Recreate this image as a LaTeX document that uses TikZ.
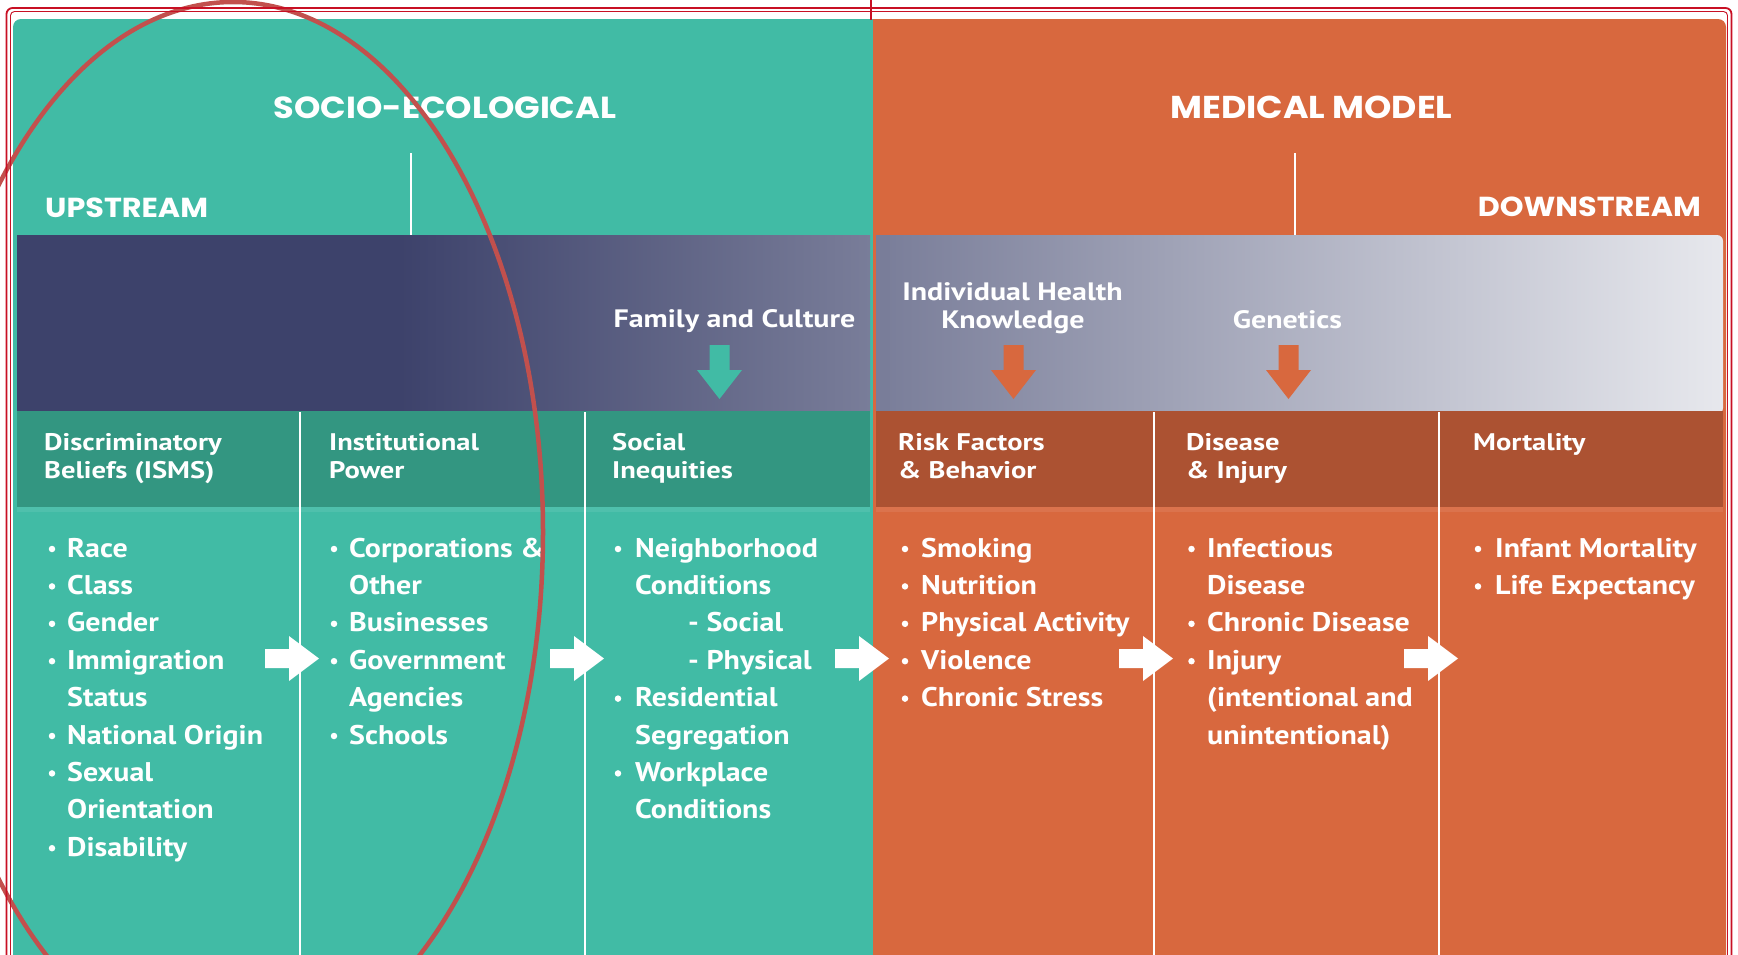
\documentclass[tikz,border=0pt]{standalone}
\usepackage{fontspec}
\setmainfont{PT Sans}
\newfontfamily\bodyfont{PT Sans}[FakeStretch=1.11]
\newfontfamily\hdrfont{PT Sans}[FakeStretch=1.19]
\newfontfamily\titlefont{Poppins}[FakeStretch=1.1]
\definecolor{panelteal}{RGB}{65,187,165}
\definecolor{hdrteal}{RGB}{51,150,129}
\definecolor{panelorange}{RGB}{216,104,62}
\definecolor{hdrorange}{RGB}{172,82,50}
\definecolor{bandnavy}{RGB}{61,66,107}
\definecolor{bandmid}{RGB}{121,125,153}
\definecolor{bandlight}{RGB}{231,232,237}
\definecolor{ringred}{RGB}{194,80,77}
\definecolor{framered}{RGB}{200,16,36}
\newcommand\bitem[5]{\node[dot] (#1b) at (#2,#4-8) {};\node[body] (#1) at (#3,#4) {#5};}
\newcommand\citem[4]{\node[body] (#1) at (#2,#3) {#4};}
\begin{document}
\begin{tikzpicture}[x=1pt,y=-1pt,
  body/.style={font=\bodyfont\fontsize{27}{32}\selectfont\bfseries, text=white, inner sep=0pt, anchor=base west},
  hdr/.style={font=\hdrfont\fontsize{24}{28}\selectfont\bfseries, text=white, inner sep=0pt, anchor=base west},
  lbl/.style={font=\hdrfont\fontsize{25.2}{30}\selectfont\bfseries, text=white, inner sep=0pt, anchor=base},
  ttl/.style={font=\titlefont\fontsize{30.5}{34}\selectfont\bfseries, text=white, inner sep=0pt},
  sttl/.style={font=\titlefont\fontsize{27.5}{32}\selectfont\bfseries, text=white, inner sep=0pt},
  dot/.style={circle, fill=white, minimum size=6.5pt, inner sep=0pt},
  divider/.style={white, line width=1.6pt},
  tick/.style={white, line width=2.6pt},
  rarrow/.pic={\fill[white] (-35,-9.5) -- (-11,-9.5) -- (-11,-22.5) -- (19,0) -- (-11,22.5) -- (-11,9.5) -- (-35,9.5) -- cycle;},
  darrow/.pic={\fill[pic actions] (-10,0) -- (10,0) -- (10,25) -- (22.5,25) -- (0,54) -- (-22.5,25) -- (-10,25) -- cycle;}
]
\useasboundingbox (0,0) rectangle (1738,954);
\clip (0,0) rectangle (1738,954);
\fill[white] (0,0) rectangle (1738,954);
% panels
\fill[panelteal, rounded corners=8pt] (13,19) rectangle (890,1000);
\fill[panelorange, rounded corners=8pt] (873,19) rectangle (1726,1000);
\fill[panelorange] (873,19) rectangle (895,1000);
% gradient band
\fill[bandnavy] (17,235) rectangle (402,412);
\shade[left color=bandnavy, right color=bandmid] (400,235) rectangle (870,412);
\shade[left color=bandmid, right color=bandlight, rounded corners=6pt] (876,235) rectangle (1723,414);
\fill[bandmid] (876,235) rectangle (890,412);
% header rows
\fill[hdrteal] (17,411) rectangle (870,507);
\fill[hdrorange] (876,411) rectangle (1723,507);
\fill[white, opacity=0.08] (17,507) rectangle (870,512);
\fill[white, opacity=0.08] (876,507) rectangle (1723,512);
% dividers
\foreach \d in {300,585,1154,1439} \draw[divider] (\d,412) -- (\d,1000);
% ticks
\draw[tick] (411,153) -- (411,235);
\draw[tick] (1295,153) -- (1295,235);
% titles
\node[ttl, anchor=base] (socio) at (445,118) {SOCIO-ECOLOGICAL};
\node[ttl, anchor=base, font=\titlefont\fontsize{31.6}{34}\selectfont\bfseries] (medical) at (1311.5,118) {MEDICAL MODEL};
\node[sttl, anchor=base west] (upstream) at (45,217) {UPSTREAM};
\node[sttl, anchor=base east] (downstream) at (1701,216) {DOWNSTREAM};
% band labels and arrows
\node[lbl] (family) at (734.5,327) {Family and Culture};
\node[lbl] (indiv) at (1012.5,300) {Individual Health};
\node[lbl] (knowl) at (1013,328) {Knowledge};
\node[lbl] (genet) at (1287.5,328) {Genetics};
\pic[fill=panelteal] at (719.5,345) {darrow};
\pic[fill=panelorange] at (1013.5,345) {darrow};
\pic[fill=panelorange] at (1288.5,345) {darrow};
% headers
\node[hdr] (h1a) at (44,450) {Discriminatory};
\node[hdr] (h1b) at (44,478) {Beliefs (ISMS)};
\node[hdr] (h2a) at (329,450) {Institutional};
\node[hdr] (h2b) at (329,478) {Power};
\node[hdr] (h3a) at (612,450) {Social};
\node[hdr] (h3b) at (612,478) {Inequities};
\node[hdr] (h4a) at (898,450) {Risk Factors};
\node[hdr] (h4b) at (898,478) {\& Behavior};
\node[hdr] (h5a) at (1186,450) {Disease};
\node[hdr] (h5b) at (1186,478) {\& Injury};
\node[hdr] (h6a) at (1473,450) {Mortality};
% column 1
\bitem{a1}{52}{67}{557}{Race}
\bitem{a2}{52}{67}{594.4}{Class}
\bitem{a3}{52}{67}{631.8}{Gender}
\bitem{a4}{52}{67}{669.2}{Immigration}
\citem{a5}{67}{706.6}{Status}
\bitem{a6}{52}{67}{744}{National Origin}
\bitem{a7}{52}{67}{781.4}{Sexual}
\citem{a8}{67}{818.8}{Orientation}
\bitem{a9}{52}{67}{856.2}{Disability}
% column 2
\bitem{b1}{334}{349}{557}{Corporations \&}
\citem{b2}{349}{594.4}{Other}
\bitem{b3}{334}{349}{631.8}{Businesses}
\bitem{b4}{334}{349}{669.2}{Government}
\citem{b5}{349}{706.6}{Agencies}
\bitem{b6}{334}{349}{744}{Schools}
% column 3
\bitem{c1}{618}{635}{557}{Neighborhood}
\citem{c2}{635}{594.4}{Conditions}
\citem{c3}{688}{631.8}{- Social}
\citem{c4}{688}{669.2}{- Physical}
\bitem{c5}{618}{635}{706.6}{Residential}
\citem{c6}{635}{744}{Segregation}
\bitem{c7}{618}{635}{781.4}{Workplace}
\citem{c8}{635}{818.8}{Conditions}
% column 4
\bitem{d1}{905}{921}{557}{Smoking}
\bitem{d2}{905}{921}{594.4}{Nutrition}
\bitem{d3}{905}{921}{631.8}{Physical Activity}
\bitem{d4}{905}{921}{669.2}{Violence}
\bitem{d5}{905}{921}{706.6}{Chronic Stress}
% column 5
\bitem{e1}{1191.5}{1207}{557}{Infectious}
\citem{e2}{1207}{594.4}{Disease}
\bitem{e3}{1191.5}{1207}{631.8}{Chronic Disease}
\bitem{e4}{1191.5}{1207}{669.2}{Injury}
\citem{e5}{1207}{706.6}{(intentional and}
\citem{e6}{1207}{744}{unintentional)}
% column 6
\bitem{f1}{1478}{1495}{557}{Infant Mortality}
\bitem{f2}{1478}{1495}{594.4}{Life Expectancy}
% flow arrows
\foreach \d in {300,585,870,1154,1439} \pic at (\d,658.5) {rarrow};
% red ring
\draw[ringred, line width=4.5pt] (233,532) ellipse [x radius=310pt, y radius=530pt];
% red frame
\draw[framered, line width=1.8pt, rounded corners=6pt] (6.5,8) rectangle (1731.5,1000);
\draw[framered, line width=0.9pt, rounded corners=4pt] (10.5,11.5) rectangle (1727.5,1000);
\draw[framered, line width=1.8pt] (871,0) -- (871,20);
\end{tikzpicture}
\end{document}
